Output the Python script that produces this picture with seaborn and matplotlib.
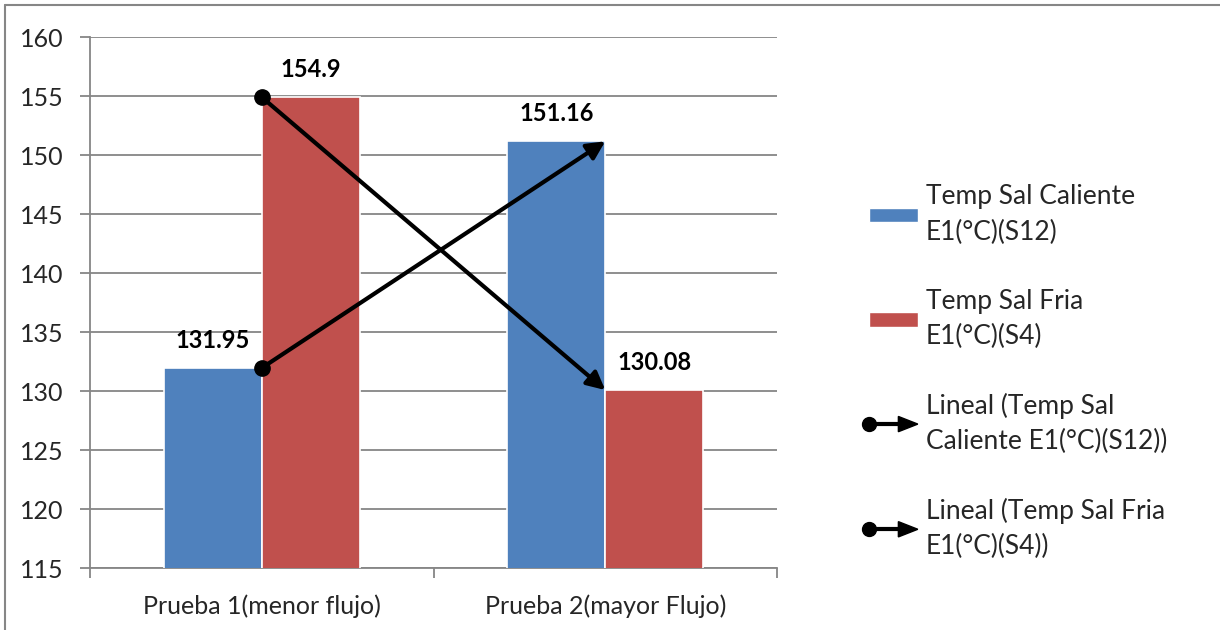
import matplotlib
matplotlib.use("Agg")
import matplotlib.pyplot as plt
import seaborn as sns
import pandas as pd
from matplotlib.patches import Patch, FancyArrow
from matplotlib.lines import Line2D
from matplotlib.legend_handler import HandlerBase

# Chart data
categories = ["Prueba 1(menor flujo)", "Prueba 2(mayor Flujo)"]
series_names = ["Temp Sal Caliente\nE1(°C)(S12)", "Temp Sal Fria\nE1(°C)(S4)"]
caliente = [131.95, 151.16]
fria = [154.9, 130.08]
trend_names = ["Lineal (Temp Sal\nCaliente E1(°C)(S12))", "Lineal (Temp Sal Fria\nE1(°C)(S4))"]
y_ticks = [115, 120, 125, 130, 135, 140, 145, 150, 155, 160]

BLUE = "#4F81BD"
RED = "#C0504D"
GRID = "#868686"
FS = 18
LEG_FS = 19

sns.set_theme(style="white")
plt.rcParams["font.family"] = ["Lato", "DejaVu Sans"]

df = pd.DataFrame({
    "categoria": categories * 2,
    "serie": [series_names[0]] * 2 + [series_names[1]] * 2,
    "valor": caliente + fria,
})

fig = plt.figure(figsize=(12.2, 6.3), dpi=100)
ax = fig.add_axes([90 / 1220, 62 / 630, 687 / 1220, 531 / 630])

sns.barplot(data=df, x="categoria", y="valor", hue="serie",
            palette=[BLUE, RED], width=0.57, ax=ax, legend=False,
            edgecolor="white", linewidth=1.2, saturation=1, zorder=3)

ax.set_ylim(115, 160)
ax.set_xlim(-0.5, 1.5)
ax.set_yticks(y_ticks)
ax.set_xlabel("")
ax.set_ylabel("")
ax.yaxis.grid(True, color=GRID, linewidth=1.3, zorder=0)
ax.set_axisbelow(True)
for side in ["top", "right"]:
    ax.spines[side].set_visible(False)
for side in ["left", "bottom"]:
    ax.spines[side].set_color(GRID)
    ax.spines[side].set_linewidth(1.3)
ax.tick_params(axis="y", length=7, width=1.3, color=GRID, left=True,
               labelsize=FS, pad=12)
ax.tick_params(axis="x", length=0, labelsize=FS, pad=19)
ax.set_xticks([-0.5, 0.5, 1.5], minor=True)
ax.tick_params(axis="x", which="minor", length=7, width=1.3, color=GRID, bottom=True)

# value labels above each bar
for cont in ax.containers:
    for bar in cont:
        h = bar.get_height()
        ax.annotate(f"{h:g}", xy=(bar.get_x() + bar.get_width() / 2, h),
                    xytext=(0, 20), textcoords="offset points",
                    ha="center", va="center", fontsize=17, fontweight="bold",
                    color="black", zorder=6)

# linear trend lines between the two tests
xs = [0, 1]
for vals in (caliente, fria):
    ax.annotate("", xy=(xs[1], vals[1]), xytext=(xs[0], vals[0]),
                arrowprops=dict(arrowstyle="-|>,head_length=0.9,head_width=0.45",
                                color="black", lw=3, shrinkA=0, shrinkB=0),
                zorder=5)
    ax.plot([xs[0]], [vals[0]], "o", color="black", markersize=11, zorder=6)


class TrendHandler(HandlerBase):
    def create_artists(self, legend, orig_handle, xdescent, ydescent,
                       width, height, fontsize, trans):
        y = height / 2 - ydescent
        x0 = -xdescent
        x1 = width - xdescent
        line = Line2D([x0, x1 - 10], [y, y], color="black", lw=3, transform=trans)
        dot = Line2D([x0], [y], marker="o", color="black",
                     markersize=10, transform=trans)
        head = FancyArrow(x1 - 14, y, 14, 0, width=0,
                          head_width=11, head_length=14,
                          length_includes_head=True, color="black",
                          transform=trans)
        return [line, dot, head]


handles = [Patch(facecolor=BLUE, edgecolor="white"),
           Patch(facecolor=RED, edgecolor="white"),
           Line2D([], []), Line2D([], [])]
labels = series_names + trend_names
leg = fig.legend(handles, labels, loc="center left",
                 bbox_to_anchor=(869 / 1220, 1 - 372 / 630),
                 frameon=False, fontsize=LEG_FS, handlelength=1.85,
                 handleheight=0.45, handletextpad=0.3, labelspacing=1.65,
                 borderpad=0, borderaxespad=0,
                 handler_map={handles[2]: TrendHandler(), handles[3]: TrendHandler()})
for t in leg.get_texts():
    t.set_linespacing(1.52)

# chart border
fig.add_artist(Line2D([5 / 1220, 5 / 1220], [0, 1 - 5 / 630],
                      transform=fig.transFigure, color=GRID, lw=1.5))
fig.add_artist(Line2D([5 / 1220, 1], [1 - 5 / 630, 1 - 5 / 630],
                      transform=fig.transFigure, color=GRID, lw=1.5))

fig.savefig("out.png", dpi=100, facecolor="white")
